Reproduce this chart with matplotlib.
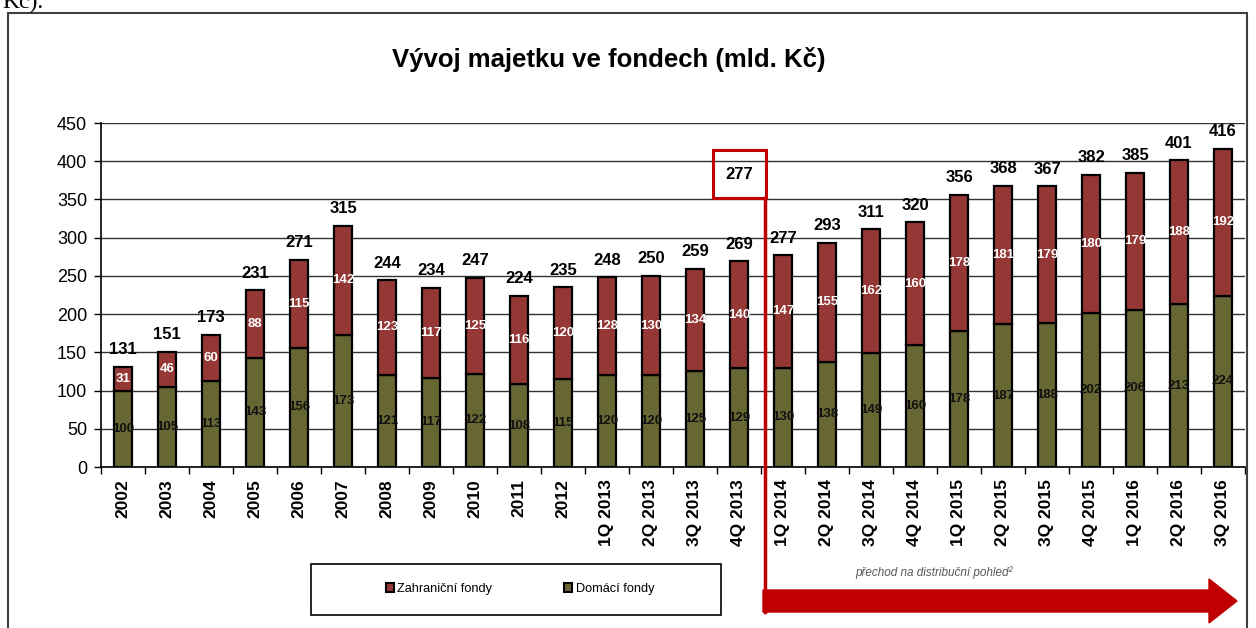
import numpy as np
import matplotlib.pyplot as plt
from matplotlib.patches import Rectangle, FancyArrow, Patch

# Data (mld. Kč)
periods = ['2002', '2003', '2004', '2005', '2006', '2007', '2008', '2009', '2010',
           '2011', '2012', '1Q 2013', '2Q 2013', '3Q 2013', '4Q 2013',
           '1Q 2014', '2Q 2014', '3Q 2014', '4Q 2014',
           '1Q 2015', '2Q 2015', '3Q 2015', '4Q 2015',
           '1Q 2016', '2Q 2016', '3Q 2016']
domestic = [100, 105, 113, 143, 156, 173, 121, 117, 122, 108, 115, 120, 120, 125, 129,
            130, 138, 149, 160, 178, 187, 188, 202, 206, 213, 224]
foreign = [31, 46, 60, 88, 115, 142, 123, 117, 125, 116, 120, 128, 130, 134, 140,
           147, 155, 162, 160, 178, 181, 179, 180, 179, 188, 192]
totals = [131, 151, 173, 231, 271, 315, 244, 234, 247, 224, 235, 248, 250, 259, 269,
          277, 293, 311, 320, 356, 368, 367, 382, 385, 401, 416]
boxed_value = 277

c_foreign = '#953735'
c_domestic = '#676733'

plt.rcParams['font.family'] = ['Liberation Sans', 'DejaVu Sans']

fig = plt.figure(figsize=(12.56, 6.28), dpi=100)
W, H = 1256, 628
ax = fig.add_axes([101 / W, (H - 467) / H, (1245 - 101) / W, (467 - 123) / H])

x = np.arange(len(periods))
bw = 0.4
ax.bar(x, domestic, bw, color=c_domestic, edgecolor='black', linewidth=1.6, zorder=3)
ax.bar(x, foreign, bw, bottom=domestic, color=c_foreign, edgecolor='black',
       linewidth=1.6, zorder=3)

for i in range(len(periods)):
    ax.text(x[i], domestic[i] / 2, str(domestic[i]), ha='center', va='center',
            fontsize=9.5, fontweight='bold', color='#111111', zorder=4)
    ax.text(x[i], domestic[i] + foreign[i] / 2, str(foreign[i]), ha='center',
            va='center', fontsize=9.5, fontweight='bold', color='white', zorder=4)
    ax.annotate(str(totals[i]), (x[i], totals[i]), xytext=(0, 7),
                textcoords='offset points', ha='center', va='bottom',
                fontsize=12, fontweight='bold', zorder=4)

ax.set_xlim(-0.5, len(periods) - 0.5)
ax.set_ylim(0, 450)
ax.set_yticks(range(0, 451, 50))
ax.yaxis.grid(True, color='#333333', linewidth=1)
ax.set_axisbelow(True)
ax.set_xticks(x)
ax.set_xticklabels(periods, rotation=90, fontsize=12.5, fontweight='bold')
ax.set_xticks(np.arange(-0.5, len(periods), 1), minor=True)
ax.tick_params(axis='x', which='major', length=0, pad=9)
ax.tick_params(axis='x', which='minor', length=5, width=1, direction='out')
ax.tick_params(axis='y', labelsize=13, length=5, width=1, pad=5)
for s in ['top', 'right']:
    ax.spines[s].set_visible(False)
ax.spines['left'].set_linewidth(1.2)
ax.spines['bottom'].set_linewidth(1.2)

# red box with the restated 4Q 2013 value and the divider line
red = '#c00000'
ax.add_patch(Rectangle((13.4, 352), 1.22, 63, fill=False, edgecolor=red,
                       linewidth=2.2, zorder=5, clip_on=False))
ax.text(14.01, 383, str(boxed_value), ha='center', va='center', fontsize=12,
        fontweight='bold', zorder=5)
ax.plot([14.6, 14.6], [352, -190], color=red, linewidth=2.5, zorder=5,
        clip_on=False)

fig.patches.append(FancyArrow(763 / W, (H - 601) / H, (1237 - 763) / W, 0,
                              width=22 / H, head_width=44 / H,
                              head_length=28 / W, length_includes_head=True,
                              color=red, transform=fig.transFigure, figure=fig))
fig.text(855 / W, (H - 573) / H, 'přechod na distribuční pohled²', fontsize=8.5,
         style='italic', color='#595959', va='center')

fig.text(609 / W, (H - 60) / H, 'Vývoj majetku ve fondech (mld. Kč)', ha='center',
         va='center', fontsize=18.5, fontweight='bold')

# outer chart frame
fig.patches.append(Rectangle((8 / W, -0.05), (1247 - 8) / W, 1.05 - 13 / H,
                             fill=False, edgecolor='#404040', linewidth=1.5,
                             transform=fig.transFigure, figure=fig))
fig.text(2 / W, 1 - 8 / H, 'Kč).', fontsize=17, family='Liberation Serif',
         va='baseline')

# legend box
fig.patches.append(Rectangle((311 / W, (H - 615) / H), 410 / W, 51 / H,
                             fill=False, edgecolor='black', linewidth=1.2,
                             transform=fig.transFigure, figure=fig))
handles = [Patch(facecolor=c_foreign, edgecolor='black', linewidth=1.5),
           Patch(facecolor=c_domestic, edgecolor='black', linewidth=1.5)]
fig.legend(handles, ['Zahraniční fondy', 'Domácí fondy'], ncol=2,
           loc='center', bbox_to_anchor=(520 / W, (H - 589) / H), frameon=False,
           fontsize=9.2, handlelength=0.6, handleheight=0.6, handletextpad=0.3,
           columnspacing=5.6)

fig.savefig('out.png', dpi=100)
